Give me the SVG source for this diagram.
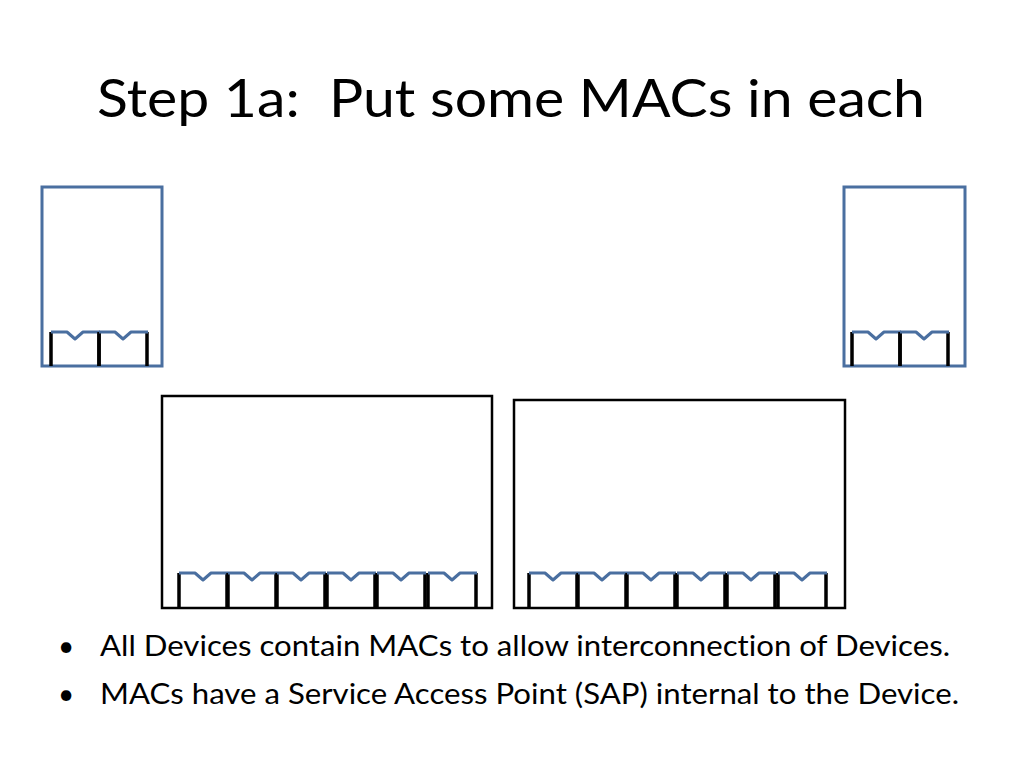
<svg xmlns="http://www.w3.org/2000/svg" width="1024" height="768" viewBox="0 0 1024 768">
<style>
.t{font-family:Lato,"Open Sans","Liberation Sans",sans-serif;fill:#000;font-variant-ligatures:none}
.small{fill:#fff;stroke:#4a6fa0;stroke-width:3}
.big{fill:#fff;stroke:#000;stroke-width:2.5}
.side{stroke:#000;stroke-width:3.5;fill:none}
.top{stroke:#4a6fa0;stroke-width:3;fill:none;stroke-linejoin:round}
</style>
<defs>
<g id="mac">
<path class="side" d="M0,0 V34 M48,0 V34"/>
<path class="top" d="M0,0 H16 L24,7 L32,0 H49"/>
</g>
</defs>
<text class="t" x="97" y="117" font-size="52" style="white-space:pre" textLength="828" lengthAdjust="spacingAndGlyphs">Step 1a:  Put some MACs in each</text>
<g id="deviceA">
<rect class="small" x="42" y="187" width="120" height="179"/>
<use href="#mac" x="51" y="332"/>
<use href="#mac" x="99" y="332"/>
</g>
<g id="deviceD">
<rect class="small" x="844" y="187" width="121" height="179"/>
<use href="#mac" x="852" y="332"/>
<use href="#mac" x="900" y="332"/>
</g>
<g id="deviceB">
<rect class="big" x="162" y="396" width="330" height="212"/>
<use href="#mac" x="179" y="573"/>
<use href="#mac" x="228" y="573"/>
<use href="#mac" x="277" y="573"/>
<use href="#mac" x="327" y="573"/>
<use href="#mac" x="377" y="573"/>
<use href="#mac" x="428" y="573"/>
</g>
<g id="deviceC">
<rect class="big" x="514" y="400" width="331" height="208"/>
<use href="#mac" x="529" y="573"/>
<use href="#mac" x="578" y="573"/>
<use href="#mac" x="627" y="573"/>
<use href="#mac" x="677" y="573"/>
<use href="#mac" x="727" y="573"/>
<use href="#mac" x="778" y="573"/>
</g>
<g id="connectors"></g>
<g class="t" font-size="28">
<text x="58" y="656">•</text>
<text x="100" y="656" textLength="850" lengthAdjust="spacingAndGlyphs">All Devices contain MACs to allow interconnection of Devices.</text>
<text x="58" y="704">•</text>
<text x="100" y="704" textLength="859" lengthAdjust="spacingAndGlyphs">MACs have a Service Access Point (SAP) internal to the Device.</text>
</g>
</svg>
